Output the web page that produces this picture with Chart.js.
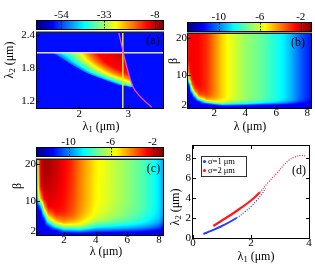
<!DOCTYPE html>
<html><head><meta charset="utf-8">
<script src="https://cdn.jsdelivr.net/npm/chart.js@4.4.1/dist/chart.umd.min.js"></script>
<style>
html,body{margin:0;padding:0;background:#fff;}
#wrap{position:relative;width:315px;height:276px;overflow:hidden;background:#fff}
canvas{position:absolute;left:0;top:0}
</style></head>
<body><div id="wrap">
<canvas id="cbA" width="315" height="276"></canvas>
<canvas id="cbB" width="315" height="276"></canvas>
<canvas id="cbC" width="315" height="276"></canvas>
<canvas id="pA" width="315" height="276"></canvas>
<canvas id="pB" width="315" height="276"></canvas>
<canvas id="pC" width="315" height="276"></canvas>
<canvas id="pD" width="315" height="276"></canvas>
</div>
<script>
const FONT = "'Liberation Serif','Times New Roman',serif";

// ---------------- panel (a) ----------------
const aTicksX = [2, 3];
const aTicksY = [1.2, 1.8, 2.4];
const aBarTicks = [-54, -33, -8];
const aHLine = 2.08;            // horizontal line, lambda2
const aVLine = 2.89;            // vertical line, lambda1
const aCurveX = [2.81, 2.90, 2.97, 3.06, 3.14, 3.31, 3.48];
const aCurveY = [2.44, 2.085, 1.82, 1.55, 1.39, 1.22, 1.085];
const aBg = -57.5;
const aRowL2 = [2.08, 2.02, 1.96, 1.90, 1.84, 1.78, 1.72, 1.66, 1.60, 1.55, 1.50, 1.46, 1.44];
const aRowPos = [
 [1.42,1.50,1.72,1.95,2.16,2.35,2.90],
 [1.55,1.61,1.81,2.02,2.22,2.41,2.915],
 [1.655,1.71,1.89,2.08,2.27,2.47,2.93],
 [1.76,1.81,1.97,2.15,2.34,2.54,2.945],
 [1.875,1.92,2.07,2.25,2.44,2.65,2.965],
 [1.99,2.03,2.17,2.35,2.55,2.77,2.98],
 [2.11,2.15,2.28,2.46,2.67,2.91,3.00],
 [2.27,2.31,2.44,2.61,2.83,3.025,3.025],
 [2.45,2.49,2.62,2.80,3.00,3.04,3.04],
 [2.61,2.65,2.77,2.95,3.06,3.06,3.06],
 [2.76,2.80,2.93,3.08,3.08,3.08,3.08],
 [2.99,3.02,3.095,3.095,3.095,3.095,3.095],
 [3.10,3.10,3.10,3.10,3.10,3.10,3.10]
];
const aRowVal = [
 [-57.5,-50,-40,-30,-20,-12,-9],
 [-57.5,-50,-40,-30,-20,-12,-9],
 [-57.5,-50,-40,-30,-20,-12,-9.5],
 [-57.5,-50,-40,-30,-20,-12,-10],
 [-57.5,-50,-40,-30,-20,-12,-10.5],
 [-57.5,-50,-40,-30,-20,-12,-11],
 [-57.5,-50,-40,-30,-20,-12.5,-12.5],
 [-57.5,-50,-40,-30,-20,-15,-15],
 [-57.5,-50,-40,-30,-21,-20,-20],
 [-57.5,-50,-40,-30,-26,-26,-26],
 [-57.5,-50,-40,-33,-33,-33,-33],
 [-57.5,-50,-44,-44,-44,-44,-44],
 [-57.5,-57.5,-57.5,-57.5,-57.5,-57.5,-57.5]
];

// ---------------- panels (b), (c) ----------------
const bcTicksX = [2, 4, 6, 8];
const bcTicksY = [2, 10, 20];
const bcBarTicks = [-10, -6, -2];
const lamKnots = [0.3,0.4,0.55,0.75,1.0,1.5,2.0,2.5,3.0,4.0,5.0,6.0,6.5,7.0,7.5,8.0,8.25];
const betaRows = [18.5,14,10.75,8.75,7.4,6.3,5.4,4.65,4.0,3.45,3.0,2.62,2.3,2.02,1.75,1.35];
const heatB = [
 [-2.7,-2.5,-2.4,-2.4,-2.5,-3.0,-4.0,-5.0,-5.7,-6.7,-7.3,-8.2,-8.7,-9.4,-10.3,-11.0,-11.3],
 [-2.6,-2.5,-2.4,-2.4,-2.5,-3.0,-4.0,-5.0,-5.7,-6.7,-7.3,-8.2,-8.7,-9.4,-10.3,-11.0,-11.3],
 [-4.5,-3.0,-2.4,-2.4,-2.5,-3.0,-4.0,-5.0,-5.7,-6.7,-7.3,-8.2,-8.7,-9.4,-10.3,-11.0,-11.3],
 [-9.0,-5.0,-2.8,-2.4,-2.5,-3.0,-4.0,-5.0,-5.7,-6.7,-7.3,-8.2,-8.7,-9.4,-10.3,-11.0,-11.3],
 [-11.6,-9.5,-3.8,-2.6,-2.5,-3.0,-4.0,-5.0,-5.7,-6.7,-7.3,-8.2,-8.7,-9.4,-10.3,-11.0,-11.3],
 [-11.6,-11.6,-6.0,-3.2,-2.7,-3.0,-4.0,-5.0,-5.7,-6.7,-7.3,-8.2,-8.7,-9.4,-10.3,-11.0,-11.3],
 [-11.6,-11.6,-9.5,-4.5,-3.0,-3.1,-4.0,-5.0,-5.7,-6.7,-7.3,-8.2,-8.7,-9.4,-10.3,-11.0,-11.3],
 [-11.6,-11.6,-11.6,-7.0,-3.6,-3.3,-4.1,-5.0,-5.7,-6.7,-7.3,-8.2,-8.7,-9.4,-10.3,-11.0,-11.3],
 [-11.6,-11.6,-11.6,-10.0,-5.0,-3.8,-4.3,-5.0,-5.7,-6.7,-7.3,-8.2,-8.7,-9.4,-10.3,-11.0,-11.3],
 [-11.6,-11.6,-11.6,-11.6,-7.5,-4.5,-4.6,-5.2,-5.9,-6.8,-7.4,-8.3,-8.8,-9.5,-10.4,-11.1,-11.4],
 [-11.6,-11.6,-11.6,-11.6,-10.5,-6.0,-5.2,-5.5,-6.1,-7.0,-7.7,-8.5,-9.0,-9.7,-10.6,-11.3,-11.6],
 [-11.6,-11.6,-11.6,-11.6,-11.6,-8.0,-6.5,-6.0,-6.7,-7.5,-8.2,-9.0,-9.5,-10.2,-11.0,-11.6,-11.6],
 [-11.6,-11.6,-11.6,-11.6,-11.6,-10.5,-8.5,-7.2,-7.8,-8.4,-9.2,-10.0,-10.5,-11.0,-11.6,-11.6,-11.6],
 [-11.6,-11.6,-11.6,-11.6,-11.6,-11.6,-10.5,-9.0,-9.2,-9.8,-10.8,-11.2,-11.6,-11.6,-11.6,-11.6,-11.6],
 [-11.6,-11.6,-11.6,-11.6,-11.6,-11.6,-11.6,-11.0,-11.0,-11.3,-11.6,-11.6,-11.6,-11.6,-11.6,-11.6,-11.6],
 [-11.6,-11.6,-11.6,-11.6,-11.6,-11.6,-11.6,-11.6,-11.6,-11.6,-11.6,-11.6,-11.6,-11.6,-11.6,-11.6,-11.6]
];
const heatC = [
 [-10,-4.5,-1.9,-1.5,-1.5,-1.9,-2.4,-3.0,-3.9,-5.3,-6.1,-6.8,-7.2,-7.6,-8.1,-8.8,-9.6],
 [-10,-5.0,-2.2,-1.8,-1.8,-2.1,-2.5,-3.1,-4.0,-5.4,-6.1,-6.8,-7.2,-7.6,-8.1,-8.8,-9.6],
 [-10.5,-6.5,-4.5,-2.4,-2.1,-2.3,-2.6,-3.2,-4.0,-5.4,-6.1,-6.8,-7.2,-7.6,-8.1,-8.8,-9.6],
 [-11.6,-11,-9.0,-4.5,-2.3,-2.4,-2.7,-3.3,-4.1,-5.5,-6.2,-6.9,-7.2,-7.6,-8.1,-8.8,-9.6],
 [-11.6,-11.6,-11.4,-6.5,-3.5,-2.6,-2.8,-3.4,-4.2,-5.6,-6.3,-7.0,-7.3,-7.7,-8.2,-8.9,-9.7],
 [-11.6,-11.6,-11.6,-9.0,-4.8,-3.2,-3.2,-3.6,-4.4,-5.8,-6.5,-7.1,-7.5,-7.9,-8.4,-9.0,-9.8],
 [-11.6,-11.6,-11.6,-11.0,-6.2,-4.0,-3.8,-4.0,-4.7,-6.1,-6.8,-7.4,-7.7,-8.1,-8.6,-9.2,-10.0],
 [-11.6,-11.6,-11.6,-11.6,-8.0,-5.0,-4.2,-4.6,-5.1,-6.6,-7.2,-7.7,-8.0,-8.4,-8.9,-9.5,-10.3],
 [-11.6,-11.6,-11.6,-11.6,-9.7,-6.3,-5.2,-5.4,-5.6,-7.2,-7.8,-8.2,-8.5,-8.9,-9.3,-9.9,-10.7],
 [-11.6,-11.6,-11.6,-11.6,-11.0,-7.8,-6.3,-6.4,-6.5,-8.1,-8.5,-8.9,-9.1,-9.4,-9.8,-10.4,-11.1],
 [-11.6,-11.6,-11.6,-11.6,-11.6,-9.3,-7.5,-7.4,-7.2,-8.8,-9.1,-9.4,-9.6,-9.9,-10.2,-10.8,-11.4],
 [-11.6,-11.6,-11.6,-11.6,-11.6,-10.5,-8.6,-8.5,-8.3,-9.6,-9.8,-10.0,-10.2,-10.4,-10.8,-11.3,-11.6],
 [-11.6,-11.6,-11.6,-11.6,-11.6,-11.5,-9.6,-9.4,-9.2,-10.2,-10.4,-10.6,-10.8,-11.0,-11.3,-11.6,-11.6],
 [-11.6,-11.6,-11.6,-11.6,-11.6,-11.6,-10.3,-10.2,-10.0,-10.9,-11.0,-11.2,-11.3,-11.5,-11.6,-11.6,-11.6],
 [-11.6,-11.6,-11.6,-11.6,-11.6,-11.6,-11.2,-11.0,-10.9,-11.4,-11.5,-11.6,-11.6,-11.6,-11.6,-11.6,-11.6],
 [-11.6,-11.6,-11.6,-11.6,-11.6,-11.6,-11.6,-11.6,-11.6,-11.6,-11.6,-11.6,-11.6,-11.6,-11.6,-11.6,-11.6]
];

// ---------------- panel (d) ----------------
const dTicksX = [0, 2, 4];
const dTicksY = [0, 2, 4, 6, 8];
const seriesLabels = ['σ=1 μm', 'σ=2 μm'];
const blueX = [0.36, 0.6, 1.0, 1.5, 1.8, 2.0, 2.2, 2.4, 2.5];
const blueY = [0.4, 0.68, 1.2, 2.0, 2.65, 3.15, 3.75, 4.5, 5.0];
const redX = [0.7, 1.0, 1.3, 1.6, 2.0, 2.3, 2.6, 2.9, 3.1, 3.3, 3.5, 3.7, 3.9];
const redY = [1.2, 1.75, 2.3, 2.9, 3.75, 4.55, 5.6, 6.5, 7.2, 7.75, 8.1, 8.25, 8.2];

// ---------------- helpers ----------------
function jet(f){
  f = Math.max(0, Math.min(1, f));
  const c = x => Math.round(255*Math.max(0, Math.min(1, x)));
  return [c(1.5-Math.abs(4*f-3)), c(1.5-Math.abs(4*f-2)), c(1.5-Math.abs(4*f-1))];
}
function aField(l1, l2){
  const n = aRowL2.length;
  if (l2 > aRowL2[0] || l2 < aRowL2[n-1]) return aBg;
  let i = 0;
  while (i < n-2 && l2 < aRowL2[i+1]) i++;
  const t = (aRowL2[i]-l2)/(aRowL2[i]-aRowL2[i+1]);
  const pos = aRowPos[i].map((p,k)=>p+(aRowPos[i+1][k]-p)*t);
  const val = aRowVal[i].map((v,k)=>v+(aRowVal[i+1][k]-v)*t);
  if (l1 < pos[0] || l1 > pos[pos.length-1]) return aBg;
  for (let k=0;k<pos.length-1;k++){
    if (l1 <= pos[k+1]){
      const d = pos[k+1]-pos[k];
      return d > 0 ? val[k]+(val[k+1]-val[k])*(l1-pos[k])/d : val[k+1];
    }
  }
  return aBg;
}
function gridField(knots, rows, grid){
  const rowAt = (r, xv) => {
    const g = grid[r];
    if (xv <= knots[0]) return g[0];
    if (xv >= knots[knots.length-1]) return g[g.length-1];
    for (let k=0;k<knots.length-1;k++){
      if (xv <= knots[k+1]){ const u=(xv-knots[k])/(knots[k+1]-knots[k]); return g[k]+(g[k+1]-g[k])*u; }
    }
    return g[g.length-1];
  };
  return (xv, yv) => {
    const n = rows.length;
    if (yv >= rows[0]) return rowAt(0, xv);
    if (yv <= rows[n-1]) return rowAt(n-1, xv);
    let i = 0;
    while (i < n-2 && yv < rows[i+1]) i++;
    const t = (rows[i]-yv)/(rows[i]-rows[i+1]);
    return rowAt(i, xv)*(1-t) + rowAt(i+1, xv)*t;
  };
}
function heatPlugin(field, vmin, vmax){
  return {id:'heat', beforeDatasetsDraw(chart){
    const {ctx, chartArea:a, scales:{x, y}} = chart;
    const w = Math.round(a.right-a.left), h = Math.round(a.bottom-a.top);
    const off = document.createElement('canvas'); off.width = w; off.height = h;
    const o = off.getContext('2d'); const img = o.createImageData(w, h);
    for (let j=0;j<h;j++){
      const yv = y.getValueForPixel(a.top+j+0.5);
      for (let i=0;i<w;i++){
        const xv = x.getValueForPixel(a.left+i+0.5);
        const c = jet((field(xv, yv)-vmin)/(vmax-vmin));
        const k = (j*w+i)*4;
        img.data[k]=c[0]; img.data[k+1]=c[1]; img.data[k+2]=c[2]; img.data[k+3]=255;
      }
    }
    o.putImageData(img, 0, 0);
    ctx.drawImage(off, a.left, a.top);
  }};
}
function framePlugin(thickTop, mirror){
  return {id:'frame', afterDraw(chart){
    const {ctx, chartArea:a, scales:{x, y}} = chart;
    ctx.save();
    ctx.strokeStyle = '#000'; ctx.lineWidth = 1;
    ctx.beginPath();
    x.ticks.forEach(t => {
      const px = Math.round(x.getPixelForValue(t.value))+0.5;
      ctx.moveTo(px, a.bottom); ctx.lineTo(px, a.bottom-3);
      if (mirror){ ctx.moveTo(px, a.top); ctx.lineTo(px, a.top+3); }
    });
    y.ticks.forEach(t => {
      const py = Math.round(y.getPixelForValue(t.value))+0.5;
      ctx.moveTo(a.left, py); ctx.lineTo(a.left+3, py);
      if (mirror){ ctx.moveTo(a.right, py); ctx.lineTo(a.right-3, py); }
    });
    ctx.stroke();
    ctx.strokeRect(a.left-0.5, a.top-0.5, a.right-a.left+1, a.bottom-a.top+1);
    if (thickTop){ ctx.fillStyle='#222'; ctx.fillRect(a.left-1, a.top-1.5, a.right-a.left+2, 1.5); }
    ctx.restore();
  }};
}
function barPlugin(vmin, vmax){
  return {id:'cbar', beforeDatasetsDraw(chart){
    const {ctx, chartArea:a, scales:{x}} = chart;
    for (let i=a.left;i<a.right;i++){
      const c = jet((x.getValueForPixel(i+0.5)-vmin)/(vmax-vmin));
      ctx.fillStyle = `rgb(${c[0]},${c[1]},${c[2]})`;
      ctx.fillRect(i, a.top, 1, a.bottom-a.top);
    }
    ctx.save();
    ctx.strokeStyle='#222'; ctx.lineWidth=1; ctx.setLineDash([1.5,1.5]);
    ctx.beginPath();
    x.ticks.forEach(t => { const px=Math.round(x.getPixelForValue(t.value))+0.5; ctx.moveTo(px,a.top); ctx.lineTo(px,a.bottom); });
    ctx.stroke(); ctx.setLineDash([]);
    ctx.strokeStyle='#000';
    ctx.strokeRect(a.left-0.5, a.top-0.5, a.right-a.left+1, a.bottom-a.top+1);
    ctx.restore();
  }};
}
function mkAxis(o){
  return {type:'linear', min:o.min, max:o.max, position:o.pos,
    afterBuildTicks: s => { s.ticks = o.ticks.map(v => ({value:v})); },
    afterFit: s => { if (s.isHorizontal()) s.height = o.size; else s.width = o.size; },
    grid:{display:false, drawTicks:false}, border:{display:false},
    ticks:{autoSkip:false, maxRotation:0, minRotation:0, padding:o.pad, color:'#000',
      font:{family:FONT, size:11, lineHeight:1}, callback: v => String(v)}};
}
function baseOpts(area, xAxis, yAxis, barMode){
  const pad = barMode
    ? {left:area.l, right:315-area.r, top:area.t-15, bottom:276-area.b}
    : {left:area.l-30, right:315-area.r, top:area.t, bottom:276-area.b-20};
  return {responsive:false, animation:false, events:[], layout:{padding:pad},
    plugins:{legend:{display:false}, tooltip:{enabled:false}},
    scales:{x:xAxis, y:yAxis}};
}
function colorbar(id, area, vmin, vmax, ticks){
  return new Chart(document.getElementById(id), {type:'scatter', data:{datasets:[]},
    options: baseOpts(area, mkAxis({min:vmin, max:vmax, pos:'top', ticks, pad:0, size:15}), {display:false, min:0, max:1}, true),
    plugins:[barPlugin(vmin, vmax)]});
}
function drawRich(ctx, parts, x, y, rot){
  ctx.save(); ctx.translate(x, y); if (rot) ctx.rotate(rot);
  let total = 0;
  parts.forEach(p => { ctx.font = `${p.s}px ${FONT}`; p.w = ctx.measureText(p.t).width; total += p.w; });
  let cx = -total/2;
  ctx.textBaseline = 'middle'; ctx.textAlign = 'left'; ctx.fillStyle = '#000';
  parts.forEach(p => { ctx.font = `${p.s}px ${FONT}`; ctx.fillText(p.t, cx, p.dy||0); cx += p.w; });
  ctx.restore();
}

// ---------------- layout ----------------
const A_X = [1.14, 3.71], A_Y = [1.07, 2.44], A_C = [-66, -4];
const BC_X = [0.3, 8.25], BC_Y = [1.1, 21], BC_C = [-13, -1];

colorbar('cbA', {l:37, r:163, t:21, b:29}, A_C[0], A_C[1], aBarTicks);
colorbar('cbB', {l:188, r:311, t:23, b:31}, BC_C[0], BC_C[1], bcBarTicks);
colorbar('cbC', {l:37, r:163, t:148, b:156}, BC_C[0], BC_C[1], bcBarTicks);

new Chart(document.getElementById('pA'), {type:'scatter',
  data:{datasets:[
    {data: aCurveX.map((x,i)=>({x, y:aCurveY[i]})), showLine:true, borderColor:'#f040f0', borderWidth:1.3, pointRadius:0, tension:0.4},
    {data:[{x:aVLine, y:A_Y[0]}, {x:aVLine, y:A_Y[1]}], showLine:true, borderColor:'#f0f000', borderWidth:1.5, pointRadius:0},
    {data:[{x:A_X[0], y:aHLine}, {x:A_X[1], y:aHLine}], showLine:true, borderColor:'#e4dcff', borderWidth:1.5, pointRadius:0}
  ]},
  options: baseOpts({l:37, r:163, t:33, b:108},
    mkAxis({min:A_X[0], max:A_X[1], pos:'bottom', ticks:aTicksX, pad:1, size:20}),
    mkAxis({min:A_Y[0], max:A_Y[1], pos:'left', ticks:aTicksY, pad:2, size:30})),
  plugins:[heatPlugin(aField, A_C[0], A_C[1]), framePlugin(true, false)]});

new Chart(document.getElementById('pB'), {type:'scatter', data:{datasets:[]},
  options: baseOpts({l:188, r:311, t:34, b:108},
    mkAxis({min:BC_X[0], max:BC_X[1], pos:'bottom', ticks:bcTicksX, pad:0, size:20}),
    mkAxis({min:BC_Y[0], max:BC_Y[1], pos:'left', ticks:bcTicksY, pad:1, size:30})),
  plugins:[heatPlugin(gridField(lamKnots, betaRows, heatB), BC_C[0], BC_C[1]), framePlugin(true, false)]});

new Chart(document.getElementById('pC'), {type:'scatter', data:{datasets:[]},
  options: baseOpts({l:37, r:163, t:160, b:235},
    mkAxis({min:BC_X[0], max:BC_X[1], pos:'bottom', ticks:bcTicksX, pad:0, size:20}),
    mkAxis({min:BC_Y[0], max:BC_Y[1], pos:'left', ticks:bcTicksY, pad:1, size:30})),
  plugins:[heatPlugin(gridField(lamKnots, betaRows, heatC), BC_C[0], BC_C[1]), framePlugin(true, false)]});

const legendPlugin = {id:'dlegend', afterDraw(chart){
  const ctx = chart.ctx;
  ctx.save();
  ctx.fillStyle = '#fff'; ctx.fillRect(201, 156, 45, 20);
  ctx.strokeStyle = '#333'; ctx.lineWidth = 1; ctx.strokeRect(201.5, 156.5, 45, 20);
  chart.data.datasets.forEach((ds, i) => {
    const yy = 161.5 + i*9;
    ctx.fillStyle = ds.pointBackgroundColor;
    ctx.beginPath(); ctx.arc(204.5, yy, 1.6, 0, Math.PI*2); ctx.fill();
    ctx.fillStyle = '#000'; ctx.font = `8.5px ${FONT}`; ctx.textBaseline = 'middle'; ctx.textAlign = 'left';
    ctx.fillText(ds.label, 208, yy);
  });
  ctx.restore();
}};
const lam1 = [{t:'λ',s:12},{t:'1',s:8.5,dy:3},{t:' (μm)',s:12}];
const lam2 = [{t:'λ',s:12},{t:'2',s:8.5,dy:3},{t:' (μm)',s:12}];
const textPlugin = {id:'texts', afterDraw(chart){
  const ctx = chart.ctx, R = -Math.PI/2;
  drawRich(ctx, lam2, 10, 60, R);
  drawRich(ctx, lam1, 101, 127);
  drawRich(ctx, [{t:'β',s:12}], 174, 61, R);
  drawRich(ctx, [{t:'λ (μm)',s:12}], 250, 127);
  drawRich(ctx, [{t:'β',s:12}], 18, 186, R);
  drawRich(ctx, [{t:'λ (μm)',s:12}], 106, 252);
  drawRich(ctx, lam2, 176, 207, R);
  drawRich(ctx, lam1, 256, 257);
  drawRich(ctx, [{t:'(a)',s:12}], 153, 41);
  drawRich(ctx, [{t:'(b)',s:12}], 298, 42.5);
  drawRich(ctx, [{t:'(c)',s:12}], 153.5, 169);
  drawRich(ctx, [{t:'(d)',s:12}], 299, 171);
}};

new Chart(document.getElementById('pD'), {type:'scatter',
  data:{datasets:[
    {label:seriesLabels[0], data: blueX.map((x,i)=>({x, y:blueY[i]})), showLine:true, borderColor:'#2240ff', pointBackgroundColor:'#2240ff', borderWidth:2, pointRadius:0, tension:0.4,
      segment:{borderDash: c => c.p0.parsed.x >= 1.5 ? [1,1.6] : undefined, borderWidth: c => c.p0.parsed.x >= 1.5 ? 1.3 : undefined}},
    {label:seriesLabels[1], data: redX.map((x,i)=>({x, y:redY[i]})), showLine:true, borderColor:'#ff1a1a', pointBackgroundColor:'#ff1a1a', borderWidth:2.2, pointRadius:0, tension:0.4,
      segment:{borderDash: c => c.p0.parsed.x >= 2.3 ? [1,1.4] : undefined, borderWidth: c => c.p0.parsed.x >= 2.3 ? 1.2 : undefined}}
  ]},
  options: baseOpts({l:193, r:309, t:146, b:238},
    mkAxis({min:0, max:4, pos:'bottom', ticks:dTicksX, pad:0, size:20}),
    mkAxis({min:0, max:9.2, pos:'left', ticks:dTicksY, pad:2, size:30})),
  plugins:[framePlugin(false, true), legendPlugin, textPlugin]});
</script>
</body></html>
